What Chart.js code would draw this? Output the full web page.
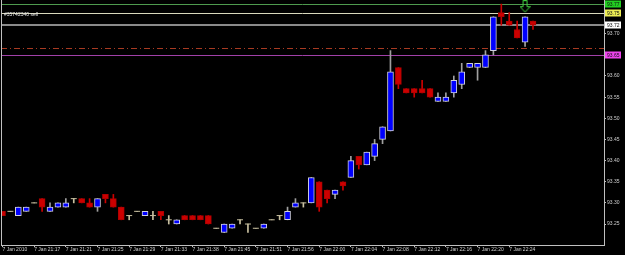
<!DOCTYPE html>
<html>
<head>
<meta charset="utf-8">
<script src="https://cdn.jsdelivr.net/npm/chart.js@4.4.0/dist/chart.umd.min.js"></script>
<style>
  html, body { margin: 0; padding: 0; background: #000; }
  #wrap { width: 625px; height: 255px; }
</style>
</head>
<body>
<div id="wrap"><canvas id="myChart" width="625" height="255"></canvas></div>
<script>
// bar data (1 min bars)
const tickLabels = ['7 Jan 2010', '7 Jan 21:17', '7 Jan 21:21', '7 Jan 21:25', '7 Jan 21:29', '7 Jan 21:33',
  '7 Jan 21:38', '7 Jan 21:45', '7 Jan 21:51', '7 Jan 21:56', '7 Jan 22:00', '7 Jan 22:04', '7 Jan 22:08',
  '7 Jan 22:12', '7 Jan 22:16', '7 Jan 22:20', '7 Jan 22:24'];
const labelEvery = 4;

const opens = [93.28, 93.28, 93.27, 93.28, 93.30, 93.31, 93.28, 93.29, 93.29, 93.31,
  93.31, 93.30, 93.29, 93.32, 93.31, 93.29, 93.27, 93.28, 93.27, 93.27,
  93.28, 93.26, 93.25, 93.27, 93.27, 93.27, 93.27, 93.24, 93.23, 93.24,
  93.26, 93.25, 93.24, 93.24, 93.26, 93.27, 93.26, 93.29, 93.30, 93.30,
  93.35, 93.33, 93.32, 93.35, 93.36, 93.41, 93.39, 93.41, 93.45, 93.47,
  93.62, 93.57, 93.57, 93.57, 93.57, 93.54, 93.54, 93.56, 93.58, 93.62,
  93.62, 93.62, 93.66, 93.75, 93.73, 93.71, 93.68, 93.73];
const highs = [93.28, 93.28, 93.29, 93.29, 93.30, 93.31, 93.30, 93.30, 93.31, 93.31,
  93.31, 93.31, 93.31, 93.32, 93.32, 93.29, 93.27, 93.28, 93.28, 93.28,
  93.28, 93.27, 93.26, 93.27, 93.27, 93.27, 93.27, 93.24, 93.25, 93.25,
  93.26, 93.25, 93.24, 93.25, 93.26, 93.27, 93.29, 93.31, 93.30, 93.36,
  93.35, 93.33, 93.33, 93.35, 93.41, 93.41, 93.42, 93.45, 93.48, 93.66,
  93.62, 93.57, 93.57, 93.59, 93.57, 93.56, 93.56, 93.60, 93.63, 93.63,
  93.63, 93.66, 93.74, 93.77, 93.75, 93.73, 93.74, 93.73];
const lows = [93.27, 93.28, 93.27, 93.28, 93.30, 93.28, 93.28, 93.29, 93.29, 93.30,
  93.30, 93.29, 93.28, 93.30, 93.29, 93.26, 93.26, 93.28, 93.27, 93.26,
  93.26, 93.25, 93.25, 93.26, 93.26, 93.26, 93.25, 93.24, 93.23, 93.24,
  93.25, 93.23, 93.24, 93.24, 93.26, 93.26, 93.26, 93.29, 93.29, 93.30,
  93.28, 93.30, 93.31, 93.33, 93.36, 93.38, 93.39, 93.40, 93.44, 93.47,
  93.57, 93.56, 93.55, 93.56, 93.55, 93.54, 93.54, 93.55, 93.57, 93.62,
  93.59, 93.62, 93.65, 93.72, 93.72, 93.69, 93.67, 93.71];
const closes = [93.27, 93.28, 93.29, 93.29, 93.30, 93.29, 93.29, 93.30, 93.30, 93.31,
  93.30, 93.29, 93.31, 93.31, 93.29, 93.26, 93.27, 93.28, 93.28, 93.27,
  93.27, 93.26, 93.26, 93.26, 93.26, 93.26, 93.25, 93.24, 93.25, 93.25,
  93.26, 93.25, 93.24, 93.25, 93.26, 93.27, 93.28, 93.30, 93.30, 93.36,
  93.29, 93.31, 93.33, 93.34, 93.40, 93.39, 93.42, 93.44, 93.48, 93.61,
  93.58, 93.56, 93.56, 93.56, 93.55, 93.55, 93.55, 93.59, 93.61, 93.63,
  93.63, 93.65, 93.74, 93.74, 93.72, 93.69, 93.74, 93.72];

// horizontal price lines and their tags on the price scale
const levelPrices = [93.77, 93.75, 93.72, 93.666, 93.65];
const levelTags = ['93.77', '93.75', '93.72', '', '93.65'];
const arrowBars = [66];
const arrowPrices = [93.764];
const orderText = '#35742340 sell';

// styles
const levelStyles = [
  { color: '#4e9a4e', width: 1, dash: [], box: '#22d022' },
  { color: '#d8d8bc', width: 1, dash: [], box: '#eeee55' },
  { color: '#8a8a8a', width: 2, dash: [], box: '#ffffff' },
  { color: '#a83a22', width: 1, dash: [6, 3, 1, 3], box: null },
  { color: '#a040a8', width: 1, dash: [], box: '#ee44ee' }
];
const BULL = '#0000ff', BULL_EDGE = '#d0d0e0', BULL_WICK = '#a0a0a0';
const BEAR = '#cc0000', BEAR_EDGE = '#b00000';
const DOJI = '#c8c0a0';
const AXIS = '#c0c0c0', TEXT = '#cfcfcf';
const FONT = "'Liberation Sans', Arial, sans-serif";

const bars = opens.map((o, i) => i);
const wickData = bars.map(i => ({ x: i, y: [lows[i], highs[i]] }));
const bodyIdx = bars.filter(i => opens[i] !== closes[i]);
const bodyData = bodyIdx.map(i => ({ x: i, y: [Math.min(opens[i], closes[i]), Math.max(opens[i], closes[i])] }));
const dojiData = bars.filter(i => opens[i] === closes[i]).map(i => ({ x: i, y: opens[i] }));
const arrowData = arrowBars.map((b, k) => ({ x: b, y: arrowPrices[k] }));

function candleColor(i, up, down, flat) {
  if (closes[i] > opens[i]) return up;
  if (closes[i] < opens[i]) return down;
  return flat;
}

// green outlined down arrow
const arrowImg = document.createElement('canvas');
arrowImg.width = 11; arrowImg.height = 13;
(function () {
  const c = arrowImg.getContext('2d');
  c.strokeStyle = '#3ed03e';
  c.lineWidth = 1;
  c.beginPath();
  c.moveTo(3.5, 0.5); c.lineTo(7.5, 0.5); c.lineTo(7.5, 6.5); c.lineTo(10.5, 6.5);
  c.lineTo(5.5, 12); c.lineTo(0.5, 6.5); c.lineTo(3.5, 6.5); c.closePath();
  c.stroke();
})();

const overlay = {
  id: 'overlay',
  beforeDraw(chart) {
    const ctx = chart.ctx;
    ctx.save();
    ctx.fillStyle = '#000';
    ctx.fillRect(0, 0, chart.width, chart.height);
    ctx.restore();
  },
  beforeDatasetsDraw(chart) {
    const { ctx, chartArea, scales } = chart;
    ctx.save();
    levelPrices.forEach((p, k) => {
      const st = levelStyles[k];
      const y = Math.round(scales.y.getPixelForValue(p)) + (st.width % 2 ? 0.5 : 0);
      ctx.strokeStyle = st.color;
      ctx.lineWidth = st.width;
      ctx.setLineDash(st.dash);
      ctx.beginPath();
      ctx.moveTo(chartArea.left, y);
      ctx.lineTo(chartArea.right, y);
      ctx.stroke();
    });
    ctx.restore();
  },
  afterDraw(chart) {
    const { ctx, chartArea, scales } = chart;
    ctx.save();
    // left frame line
    ctx.strokeStyle = AXIS;
    ctx.lineWidth = 1;
    ctx.beginPath();
    ctx.moveTo(chartArea.left + 0.5, chartArea.top);
    ctx.lineTo(chartArea.left + 0.5, chartArea.bottom);
    ctx.stroke();
    // price tags
    ctx.font = '5px ' + FONT;
    ctx.textBaseline = 'middle';
    ctx.textAlign = 'left';
    levelPrices.forEach((p, k) => {
      const st = levelStyles[k];
      if (!st.box || !levelTags[k]) return;
      const y = Math.round(scales.y.getPixelForValue(p));
      ctx.fillStyle = st.box;
      ctx.fillRect(chartArea.right + 1, y - 3.5, 16, 7);
      ctx.fillStyle = '#101010';
      ctx.fillText(levelTags[k], chartArea.right + 3, y + 0.5);
    });
    // order label
    ctx.fillStyle = '#e8e8e8';
    ctx.fillText(orderText, chartArea.left + 3, Math.round(scales.y.getPixelForValue(levelPrices[1])) + 1.5);
    ctx.restore();
  }
};

const ctx = document.getElementById('myChart').getContext('2d');
const myChart = new Chart(ctx, {
  type: 'bar',
  data: {
    datasets: [{
      label: 'wick',
      data: wickData,
      backgroundColor: bars.map(i => candleColor(i, BULL_WICK, BEAR, DOJI)),
      borderWidth: 0,
      barThickness: 1,
      grouped: false,
      order: 3
    }, {
      label: 'body',
      data: bodyData,
      backgroundColor: bodyIdx.map(i => candleColor(i, BULL, BEAR, DOJI)),
      borderColor: bodyIdx.map(i => candleColor(i, BULL_EDGE, BEAR_EDGE, DOJI)),
      borderWidth: 1,
      borderSkipped: false,
      barThickness: 6,
      grouped: false,
      order: 2
    }, {
      type: 'line',
      label: 'doji',
      data: dojiData,
      showLine: false,
      pointStyle: 'line',
      pointRadius: 3,
      pointBorderWidth: 1,
      pointBorderColor: DOJI,
      order: 1
    }, {
      type: 'line',
      label: 'arrow',
      data: arrowData,
      showLine: false,
      pointStyle: arrowImg,
      order: 0
    }]
  },
  options: {
    responsive: false,
    animation: false,
    devicePixelRatio: 1,
    layout: { autoPadding: false, padding: { left: 1, top: 0, right: 0, bottom: 0 } },
    plugins: { legend: { display: false }, tooltip: { enabled: false } },
    scales: {
      x: {
        type: 'linear',
        offset: false,
        min: -0.19,
        max: 75.97,
        afterBuildTicks: (scale) => { scale.ticks = tickLabels.map((t, k) => ({ value: k * labelEvery })); },
        afterFit: (scale) => { scale.height = 10; scale.paddingLeft = 0; scale.paddingRight = 0; },
        grid: { display: true, offset: false, drawOnChartArea: false, drawTicks: true, tickLength: 2, color: AXIS },
        border: { display: true, color: AXIS, width: 1 },
        ticks: {
          align: 'start',
          autoSkip: false,
          maxRotation: 0,
          padding: 0,
          color: TEXT,
          font: { family: FONT, size: 5 },
          callback: (v, i) => tickLabels[i]
        }
      },
      y: {
        position: 'right',
        min: 93.2004,
        max: 93.7797,
        afterFit: (scale) => { scale.width = 21; scale.paddingTop = 0; scale.paddingBottom = 0; },
        grid: { display: true, drawOnChartArea: false, drawTicks: true, tickLength: 2, color: AXIS },
        border: { display: true, color: AXIS, width: 1 },
        ticks: {
          stepSize: 0.05,
          includeBounds: false,
          padding: 1,
          color: TEXT,
          font: { family: FONT, size: 5 },
          callback: (v) => v.toFixed(2)
        }
      }
    }
  },
  plugins: [overlay]
});
</script>
</body>
</html>
